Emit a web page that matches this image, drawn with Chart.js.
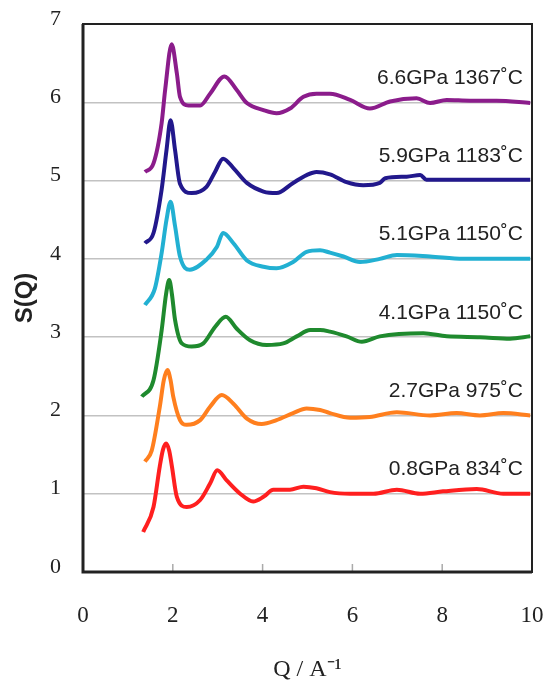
<!DOCTYPE html>
<html lang="en">
<head>
    <meta charset="UTF-8">
    <title>S(Q) curves</title>
    <script src="https://cdn.jsdelivr.net/npm/chart.js"></script>
    <style>
        body { margin: 0; background: #fff; }
    </style>
</head>
<body>
    <canvas id="sqChart" width="551" height="688"></canvas>

    <script>
        // Data (each curve is offset by +1 on the S(Q) axis)
        const seriesNames = ['0.8GPa 834˚C', '2.7GPa 975˚C', '4.1GPa 1150˚C', '5.1GPa 1150˚C', '5.9GPa 1183˚C', '6.6GPa 1367˚C'];
        const seriesColors = ['#ff1f1f', '#ff7f1e', '#1f8a2e', '#22b0d2', '#22188c', '#8b1c8b'];

        const q08 = [1.34, 1.57, 1.71, 1.78, 1.85, 1.92, 1.98, 2.09, 2.31, 2.61, 2.83, 2.99, 3.20, 3.50, 3.79, 4.02, 4.24, 4.61, 4.91, 5.20, 5.50, 5.95, 6.47, 6.99, 7.51, 8.02, 8.77, 9.36, 9.96];
        const s08 = [0.51, 0.83, 1.35, 1.56, 1.64, 1.55, 1.35, 0.96, 0.83, 0.92, 1.13, 1.30, 1.17, 1.00, 0.90, 0.96, 1.05, 1.05, 1.09, 1.07, 1.02, 1.00, 1.00, 1.05, 1.00, 1.03, 1.06, 1.00, 1.00];

        const q27 = [1.38, 1.53, 1.71, 1.80, 1.88, 1.95, 2.01, 2.16, 2.31, 2.61, 2.83, 3.09, 3.35, 3.65, 3.98, 4.31, 4.68, 4.98, 5.28, 5.50, 5.95, 6.39, 6.99, 7.73, 8.32, 8.84, 9.36, 9.96];
        const s27 = [1.41, 1.55, 2.11, 2.45, 2.58, 2.45, 2.24, 1.94, 1.88, 1.94, 2.11, 2.26, 2.15, 1.96, 1.89, 1.94, 2.03, 2.09, 2.07, 2.03, 1.97, 1.98, 2.04, 2.00, 2.03, 2.00, 2.03, 2.00];

        const q41 = [1.31, 1.57, 1.75, 1.85, 1.92, 1.98, 2.05, 2.20, 2.42, 2.68, 2.94, 3.18, 3.42, 3.72, 4.09, 4.46, 4.76, 5.06, 5.28, 5.50, 5.87, 6.21, 6.61, 7.58, 8.10, 8.84, 9.51, 9.96];
        const s41 = [2.24, 2.45, 3.08, 3.55, 3.73, 3.55, 3.22, 2.92, 2.88, 2.92, 3.13, 3.26, 3.11, 2.96, 2.90, 2.92, 3.01, 3.09, 3.09, 3.07, 3.01, 2.94, 3.01, 3.05, 3.01, 3.00, 2.98, 3.01];

        const q51 = [1.38, 1.60, 1.75, 1.86, 1.95, 2.05, 2.16, 2.38, 2.75, 2.98, 3.12, 3.35, 3.65, 4.02, 4.31, 4.68, 4.98, 5.28, 5.50, 5.80, 6.17, 6.61, 6.99, 7.73, 8.47, 9.21, 9.96];
        const s51 = [3.41, 3.62, 4.07, 4.50, 4.73, 4.42, 4.03, 3.86, 3.99, 4.15, 4.33, 4.20, 3.98, 3.90, 3.88, 3.96, 4.09, 4.11, 4.08, 4.03, 3.96, 4.00, 4.05, 4.03, 4.00, 4.00, 4.00];

        const q59 = [1.38, 1.57, 1.75, 1.86, 1.95, 2.05, 2.16, 2.42, 2.75, 2.94, 3.12, 3.35, 3.65, 4.02, 4.31, 4.68, 4.98, 5.20, 5.50, 5.87, 6.24, 6.61, 6.73, 7.21, 7.51, 7.65, 8.10, 8.84, 9.96];
        const s59 = [4.20, 4.33, 4.88, 5.39, 5.77, 5.39, 4.96, 4.84, 4.92, 5.11, 5.28, 5.16, 4.97, 4.86, 4.84, 4.97, 5.07, 5.11, 5.08, 4.98, 4.94, 4.97, 5.03, 5.05, 5.07, 5.01, 5.01, 5.01, 5.01];

        const q66 = [1.38, 1.57, 1.75, 1.83, 1.975, 2.09, 2.16, 2.35, 2.61, 2.83, 3.15, 3.42, 3.65, 4.02, 4.31, 4.61, 4.91, 5.20, 5.50, 5.95, 6.39, 6.84, 7.43, 7.73, 8.10, 8.62, 9.21, 9.96];
        const s66 = [5.11, 5.22, 5.73, 6.16, 6.74, 6.37, 6.07, 5.96, 5.96, 6.11, 6.33, 6.16, 5.99, 5.90, 5.86, 5.92, 6.07, 6.11, 6.11, 6.03, 5.92, 6.01, 6.05, 5.99, 6.03, 6.02, 6.02, 5.99];

        const qArrays = [q08, q27, q41, q51, q59, q66];
        const sArrays = [s08, s27, s41, s51, s59, s66];

        const datasets = seriesNames.map((name, i) => ({
            label: name,
            data: qArrays[i].map((q, j) => ({ x: q, y: sArrays[i][j] })),
            borderColor: seriesColors[i],
            borderWidth: 4,
            pointRadius: 0,
            showLine: true,
            cubicInterpolationMode: 'monotone'
        }));

        // frame, inward x ticks and curve labels
        const decorations = {
            id: 'decorations',
            afterDraw(chart) {
                const { ctx, chartArea: a, scales: { x, y } } = chart;
                ctx.save();
                // small inward ticks on the bottom axis
                ctx.strokeStyle = '#aaa';
                ctx.lineWidth = 1.5;
                [2, 4, 6, 8].forEach(v => {
                    const px = x.getPixelForValue(v);
                    ctx.beginPath();
                    ctx.moveTo(px, a.bottom);
                    ctx.lineTo(px, a.bottom - 8);
                    ctx.stroke();
                });
                // box
                ctx.strokeStyle = '#222';
                ctx.lineWidth = 2;
                ctx.strokeRect(a.left, a.top, a.right - a.left, a.bottom - a.top);
                ctx.lineWidth = 3;
                ctx.beginPath();
                ctx.moveTo(a.left, a.top);
                ctx.lineTo(a.left, a.bottom);
                ctx.lineTo(a.right, a.bottom);
                ctx.stroke();
                // series labels
                ctx.fillStyle = '#222';
                ctx.font = '21px "Liberation Sans", Arial, sans-serif';
                ctx.textAlign = 'right';
                ctx.textBaseline = 'middle';
                seriesNames.forEach((name, i) => {
                    ctx.fillText(name, a.right - 9, y.getPixelForValue(i + 1.31));
                });
                ctx.restore();
            }
        };

        new Chart(document.getElementById('sqChart'), {
            type: 'scatter',
            data: { datasets },
            options: {
                responsive: false,
                animation: false,
                layout: { padding: { top: 24, right: 19, left: 0, bottom: 0 } },
                plugins: {
                    legend: { display: false },
                    tooltip: { enabled: false }
                },
                scales: {
                    x: {
                        type: 'linear',
                        min: 0,
                        max: 10,
                        border: { display: false },
                        grid: { display: false, drawTicks: false },
                        ticks: {
                            stepSize: 2,
                            padding: 30,
                            color: '#222',
                            font: { family: '"Liberation Serif", "Times New Roman", serif', size: 23 }
                        },
                        title: {
                            display: true,
                            text: 'Q / A⁻¹',
                            color: '#222',
                            padding: { top: 0, bottom: 4 },
                            font: { family: '"Liberation Serif", "Times New Roman", serif', size: 24 }
                        },
                        afterFit(scale) {
                            scale.height = 116;
                            scale.paddingLeft = 0;
                            scale.paddingRight = 0;
                        }
                    },
                    y: {
                        min: 0,
                        max: 7,
                        border: { display: false },
                        grid: {
                            drawTicks: false,
                            lineWidth: 1.5,
                            color: ctx => (ctx.tick.value === 0 || ctx.tick.value === 7) ? 'rgba(0,0,0,0)' : '#c2c2c2'
                        },
                        ticks: {
                            stepSize: 1,
                            padding: 22,
                            labelOffset: -5,
                            color: '#222',
                            font: { family: '"Liberation Serif", "Times New Roman", serif', size: 22 }
                        },
                        title: {
                            display: true,
                            text: 'S(Q)',
                            color: '#222',
                            padding: { top: 11, bottom: 0 },
                            font: { family: '"Liberation Sans", Arial, sans-serif', size: 24, weight: 'bold' }
                        },
                        afterFit(scale) {
                            scale.width = 83;
                            scale.paddingTop = 0;
                            scale.paddingBottom = 0;
                        }
                    }
                }
            },
            plugins: [decorations]
        });
    </script>
</body>
</html>
